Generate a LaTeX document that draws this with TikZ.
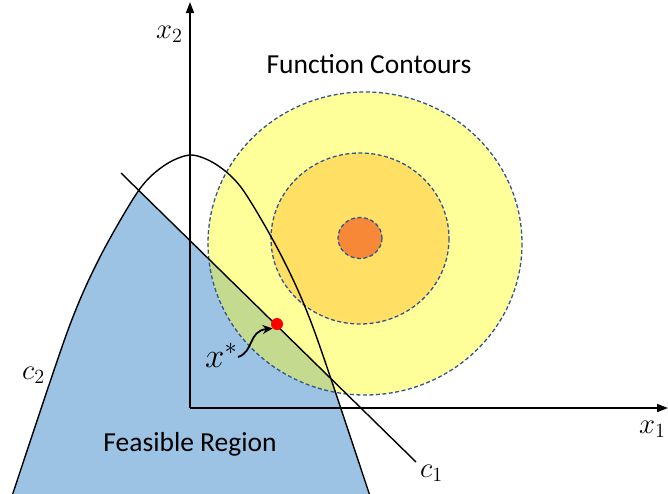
\RequirePackage{fix-cm}
\documentclass[tikz,border=0pt]{standalone}
\usepackage{fontspec}
\setmainfont{Carlito}
\usetikzlibrary{arrows.meta}
\definecolor{feas}{RGB}{157,195,228}
\definecolor{yel}{RGB}{255,255,153}
\definecolor{midc}{RGB}{255,224,100}
\definecolor{orng}{RGB}{246,136,56}
\definecolor{grn}{RGB}{196,218,142}
\definecolor{dashc}{RGB}{47,85,151}
\newcommand{\mlab}[2][1.2]{\scalebox{#1}{$#2$}}
\tikzset{
  contour/.style={draw=dashc, line width=1.3pt, dash pattern=on 4pt off 2.5pt},
  axisline/.style={line width=1.6pt, -{Triangle[length=11pt,width=8pt]}},
  curveline/.style={line width=1.4pt},
  lab/.style={inner sep=0pt, font=\fontsize{24}{28}\selectfont},
  biglab/.style={inner sep=0pt, font=\fontsize{27.5}{33}\selectfont},
}
\begin{document}
\begin{tikzpicture}[x=1pt,y=-1pt]
\useasboundingbox (0,0) rectangle (668,493);
% feasible region
\begin{scope}
  \clip (0,54.5) -- (740,779.5) -- (0,779.5) -- cycle;
  \fill[feas] plot[smooth, tension=0.5] coordinates {(5,517) (13,493) (68,330) (100,257) (139,190) (165,165) (191,155) (217,165) (243,190) (282,257) (314,330) (369,493) (377,517)} -- cycle;
\end{scope}
% contours
\fill[yel] (365,243.5) ellipse [x radius=157, y radius=151.5];
\begin{scope}
  \clip (0,54.5) -- (740,779.5) -- (0,779.5) -- cycle;
  \clip plot[smooth, tension=0.5] coordinates {(5,517) (13,493) (68,330) (100,257) (139,190) (165,165) (191,155) (217,165) (243,190) (282,257) (314,330) (369,493) (377,517)} -- cycle;
  \fill[grn] (365,243.5) ellipse [x radius=157, y radius=151.5];
\end{scope}
\fill[midc] (360,238.5) ellipse [x radius=89, y radius=85.5];
\fill[orng] (360,238) ellipse [x radius=22, y radius=20.5];
\draw[contour] (365,243.5) ellipse [x radius=157, y radius=151.5];
\draw[contour] (360,238.5) ellipse [x radius=89, y radius=85.5];
\draw[contour] (360,238) ellipse [x radius=22, y radius=20.5];
% axes
\coordinate (O) at (190,408);
\coordinate (ytip) at (190,2);
\coordinate (xtip) at (668,408);
\draw[axisline] (O) -- (ytip);
\draw[axisline] (O) -- (xtip);
% constraints
\draw[curveline] plot[smooth, tension=0.5] coordinates {(5,517) (13,493) (68,330) (100,257) (139,190) (165,165) (191,155) (217,165) (243,190) (282,257) (314,330) (369,493) (377,517)};
\coordinate (c1a) at (121,173);
\coordinate (c1b) at (416,462);
\draw[curveline] (c1a) -- (c1b);
% optimum
\node[circle, fill=red, minimum size=12pt, inner sep=0pt] (opt) at (277,324) {};
\node[lab, anchor=base west] (xs) at (205,367) {\mlab[1.45]{x^*}};
\coordinate (xsa) at (238,357);
\draw[line width=1.8pt, -{Stealth[length=10pt,width=9pt]}] (xsa) .. controls (254,352) and (248,331) .. (opt.south west);
% labels
\node[lab, anchor=base west] (x2) at (156,38) {\mlab{x_2}};
\node[lab, anchor=base west] (x1) at (639,433) {\mlab{x_1}};
\node[lab, anchor=base west] (c1) at (420,477) {\mlab{c_1}};
\node[lab, anchor=base west] (c2) at (22,379) {\mlab{c_2}};
\node[biglab, anchor=base] (fc) at (369,73) {Function Contours};
\node[biglab, anchor=base] (fr) at (190,451) {Feasible Region};
\end{tikzpicture}
\end{document}
